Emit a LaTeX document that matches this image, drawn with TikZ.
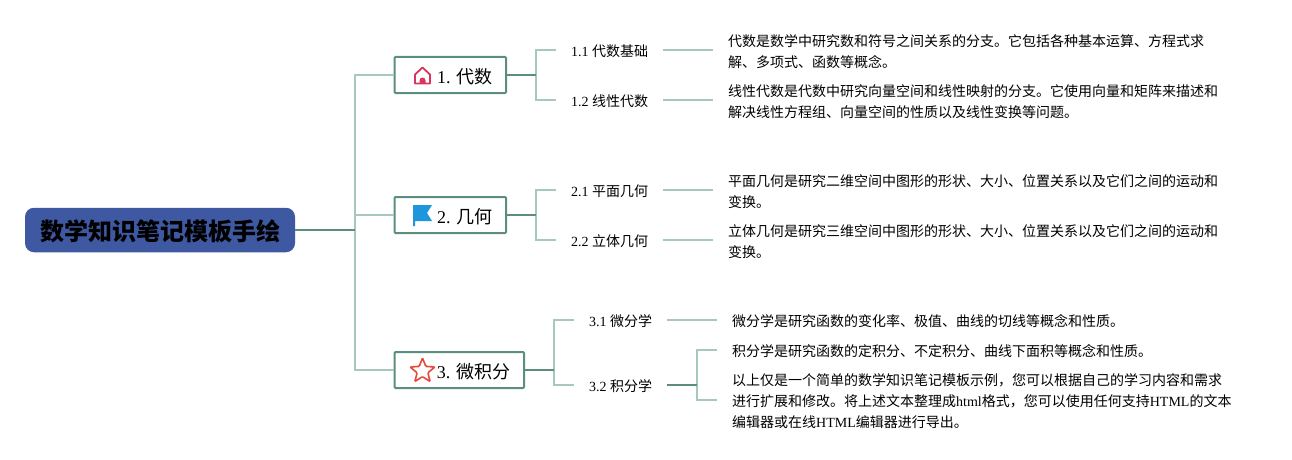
\documentclass[tikz,border=0pt]{standalone}
\usepackage{fontspec}
\setmainfont{Liberation Serif}
\newfontfamily\cjk{Noto Sans CJK SC}
\usetikzlibrary{shapes.geometric}
\definecolor{rootblue}{HTML}{3F58A2}
\definecolor{darkgreen}{HTML}{5B8E7F}
\definecolor{lightgreen}{HTML}{A6C8BD}
\definecolor{housered}{HTML}{D8365E}
\definecolor{flagblue}{HTML}{1E96DC}
\definecolor{starred}{HTML}{E8483A}
\tikzset{
  x=1pt,y=-1pt,
  rootbox/.style={fill=rootblue,rounded corners=9pt,minimum width=270pt,minimum height=44.5pt,inner sep=0pt,text height=21pt,text depth=1pt,font=\fontsize{24}{28}\selectfont\bfseries\cjk},
  topicbox/.style={draw=darkgreen,line width=2pt,fill=white,rounded corners=1pt,minimum height=36pt,inner sep=0pt,text height=16pt,text depth=0pt,font=\fontsize{18}{22}\selectfont},
  subbox/.style={inner sep=0pt,minimum height=20pt,text height=14pt,text depth=1.4pt,font=\fontsize{14}{21}\selectfont},
  leafbox/.style={anchor=west,align=left,inner xsep=15pt,inner ysep=0pt,font=\fontsize{14}{21}\selectfont\cjk},
  darkline/.style={draw=darkgreen,line width=2pt},
  lightline/.style={draw=lightgreen,line width=2pt}
}
\begin{document}
\begin{tikzpicture}
\useasboundingbox (0,0) rectangle (1292,460);

\node[rootbox] (root) at (160,230) {数学知识笔记模板手绘};

\node[topicbox,minimum width=111.5pt] (algebra) at (450.25,75) {\hspace*{29pt}1. {\cjk 代数}};
\node[topicbox,minimum width=111.5pt] (geometry) at (450.25,215) {\hspace*{29pt}2. {\cjk 几何}};
\node[topicbox,minimum width=129.5pt] (calculus) at (459.25,370) {\hspace*{28.5pt}3. {\cjk 微积分}};

\node[subbox,minimum width=107pt] (basics) at (609.5,50) {1.1 {\cjk 代数基础}};
\node[subbox,minimum width=107pt] (linear) at (609.5,100) {1.2 {\cjk 线性代数}};
\node[subbox,minimum width=107pt] (plane) at (609.5,190) {2.1 {\cjk 平面几何}};
\node[subbox,minimum width=107pt] (solid) at (609.5,240) {2.2 {\cjk 立体几何}};
\node[subbox,minimum width=93pt] (differential) at (620.5,320) {3.1 {\cjk 微分学}};
\node[subbox,minimum width=93pt] (integral) at (620.5,385) {3.2 {\cjk 积分学}};

\node[leafbox] (basicstext) at (713,52) {代数是数学中研究数和符号之间关系的分支。它包括各种基本运算、方程式求\\解、多项式、函数等概念。};
\node[leafbox] (lineartext) at (713,102) {线性代数是代数中研究向量空间和线性映射的分支。它使用向量和矩阵来描述和\\解决线性方程组、向量空间的性质以及线性变换等问题。};
\node[leafbox] (planetext) at (713,192) {平面几何是研究二维空间中图形的形状、大小、位置关系以及它们之间的运动和\\变换。};
\node[leafbox] (solidtext) at (713,242) {立体几何是研究三维空间中图形的形状、大小、位置关系以及它们之间的运动和\\变换。};
\node[leafbox] (differentialtext) at (717,321.5) {微分学是研究函数的变化率、极值、曲线的切线等概念和性质。};
\node[leafbox] (integraltext) at (717,351.5) {积分学是研究函数的定积分、不定积分、曲线下面积等概念和性质。};
\node[leafbox] (summarytext) at (717,401.5) {以上仅是一个简单的数学知识笔记模板示例，您可以根据自己的学习内容和需求\\进行扩展和修改。将上述文本整理成{\rmfamily html}格式，您可以使用任何支持{\rmfamily HTML}的文本\\编辑器或在线{\rmfamily HTML}编辑器进行导出。};

\coordinate (rootbus) at (355,230);
\coordinate (algebrabus) at (536,75);
\coordinate (geometrybus) at (536,215);
\coordinate (calculusbus) at (554,370);
\coordinate (integralbus) at (697,385);

% root to topics
\draw[lightline] (rootbus) |- (algebra.west);
\draw[lightline] (rootbus) |- (geometry.west);
\draw[lightline] (rootbus) |- (calculus.west);
\draw[darkline] (root.east) -- (rootbus);

% topics to subtopics
\draw[lightline] (algebrabus) |- (basics.west);
\draw[lightline] (algebrabus) |- (linear.west);
\draw[darkline] (algebra.east) -- (algebrabus);
\draw[lightline] (geometrybus) |- (plane.west);
\draw[lightline] (geometrybus) |- (solid.west);
\draw[darkline] (geometry.east) -- (geometrybus);
\draw[lightline] (calculusbus) |- (differential.west);
\draw[lightline] (calculusbus) |- (integral.west);
\draw[darkline] (calculus.east) -- (calculusbus);

% subtopics to texts
\draw[lightline] (basics.east) -- (basics.east -| basicstext.west);
\draw[lightline] (linear.east) -- (linear.east -| lineartext.west);
\draw[lightline] (plane.east) -- (plane.east -| planetext.west);
\draw[lightline] (solid.east) -- (solid.east -| solidtext.west);
\draw[lightline] (differential.east) -- (differential.east -| differentialtext.west);
\draw[lightline] (integralbus) |- ([yshift=1.5pt]integraltext.west);
\draw[lightline] (integralbus) |- ([yshift=1.5pt]summarytext.west);
\draw[darkline] (integral.east) -- (integralbus);

% icons
\draw[housered,line width=1.8pt,line join=round] (415,83.5) -- (415,74.5) -- (422.5,67.5) -- (430,74.5) -- (430,83.5) -- cycle;
\fill[housered] (419.5,83.5) -- (419.5,80.5) arc[start angle=180,end angle=360,radius=3] -- (425.5,83.5) -- cycle;
\fill[flagblue] (413,205) -- (432,205) -- (427,213) -- (432,221) -- (415,221) -- (415,226) -- (413,226) -- cycle;
\node[star,star points=5,star point ratio=2.3,draw=starred,line width=1.6pt,rounded corners=1pt,fill=white,minimum size=26pt,inner sep=0pt] (staricon) at (422.5,371) {};
\end{tikzpicture}
\end{document}
